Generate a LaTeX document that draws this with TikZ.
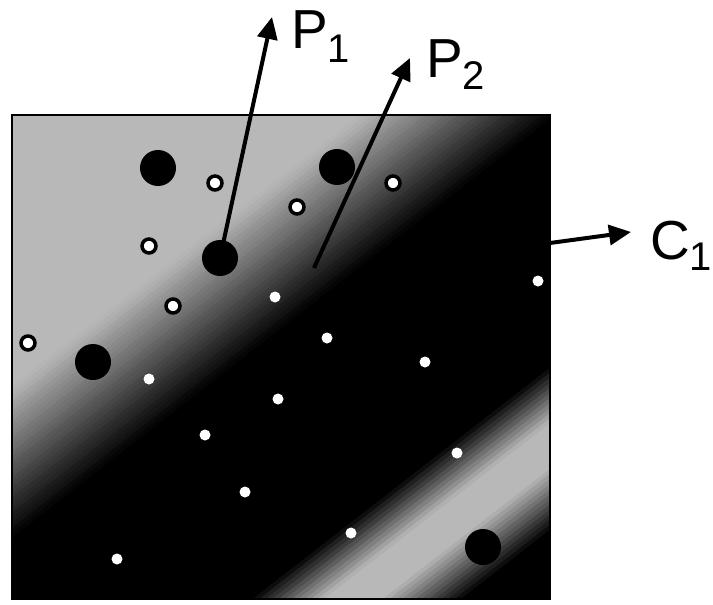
\documentclass[tikz,border=0pt]{standalone}
\usepackage{fontspec}
\setmainfont{Liberation Sans}
\usetikzlibrary{arrows.meta}
\newcommand{\subfont}{\fontsize{40}{40}\selectfont}

\begin{document}
\begin{tikzpicture}[x=1pt, y=-1pt,
  bigdot/.style={circle, fill=black, minimum size=36pt, inner sep=0pt},
  ringdot/.style={circle, draw=black, line width=3.5pt, fill=white, minimum size=14pt, inner sep=0pt},
  whitedot/.style={circle, fill=white, minimum size=11pt, inner sep=0pt},
  vec/.style={line width=4pt, -{Triangle[length=22pt, width=20pt]}},
  lbl/.style={font=\fontsize{55}{60}\selectfont, inner sep=0pt, anchor=base west}]
  \useasboundingbox (0,0) rectangle (713,605);

  % grey field, stripes across the diagonal
  \begin{scope}
    \clip (12,115) rectangle (550,599);
    \foreach \s in {96,100,...,812}{
      \pgfmathtruncatemacro\pct{28 + 72*min(1,max(0,(\s-310)/120)) - 72*min(1,max(0,(\s-625)/45)) + 72*min(1,max(0,(\s-705)/50))}
      \fill[black!\pct] ({\s*0.614-315.6},{\s*0.789+245.6}) -- ({\s*0.614+315.6},{\s*0.789-245.6})
        -- ({(\s+5)*0.614+315.6},{(\s+5)*0.789-245.6}) -- ({(\s+5)*0.614-315.6},{(\s+5)*0.789+245.6}) -- cycle;
    }
  \end{scope}
  \draw[line width=2.5pt] (12,115) rectangle (550,599);

  % large black dots
  \node[bigdot] (b1) at (158,168) {};
  \node[bigdot] (b2) at (337,167) {};
  \node[bigdot] (b3) at (220,258) {};
  \node[bigdot] (b4) at (93,362) {};
  \node[bigdot] (b5) at (483,547) {};

  % ringed dots
  \node[ringdot] (r1) at (215,183) {};
  \node[ringdot] (r2) at (297,207) {};
  \node[ringdot] (r3) at (393,183) {};
  \node[ringdot] (r4) at (149,246) {};
  \node[ringdot] (r5) at (173,306) {};
  \node[ringdot] (r6) at (28,343) {};

  % white dots
  \node[whitedot] (w1) at (275,297) {};
  \node[whitedot] (w2) at (327,338) {};
  \node[whitedot] (w3) at (425,362) {};
  \node[whitedot] (w4) at (538,281) {};
  \node[whitedot] (w5) at (278,399) {};
  \node[whitedot] (w6) at (149,379) {};
  \node[whitedot] (w7) at (205,435) {};
  \node[whitedot] (w8) at (457,453) {};
  \node[whitedot] (w9) at (245,492) {};
  \node[whitedot] (w10) at (351,533) {};
  \node[whitedot] (w11) at (117,559) {};

  % arrows and labels
  \coordinate (p1tip) at (272,17);
  \coordinate (p2base) at (314,268);
  \coordinate (p2tip) at (410,58);
  \coordinate (c1base) at (550,243);
  \coordinate (c1tip) at (631,232);
  \draw[vec] (b3.center) -- (p1tip);
  \draw[vec] (p2base) -- (p2tip);
  \draw[vec] (c1base) -- (c1tip);
  \node[lbl] (p1) at (291,48) {P\raisebox{-14pt}{\subfont 1}};
  \node[lbl] (p2) at (426,77) {P\raisebox{-13pt}{\subfont 2}};
  \node[lbl] (c1) at (650,259) {C\raisebox{-11pt}{\subfont 1}};
\end{tikzpicture}
\end{document}
